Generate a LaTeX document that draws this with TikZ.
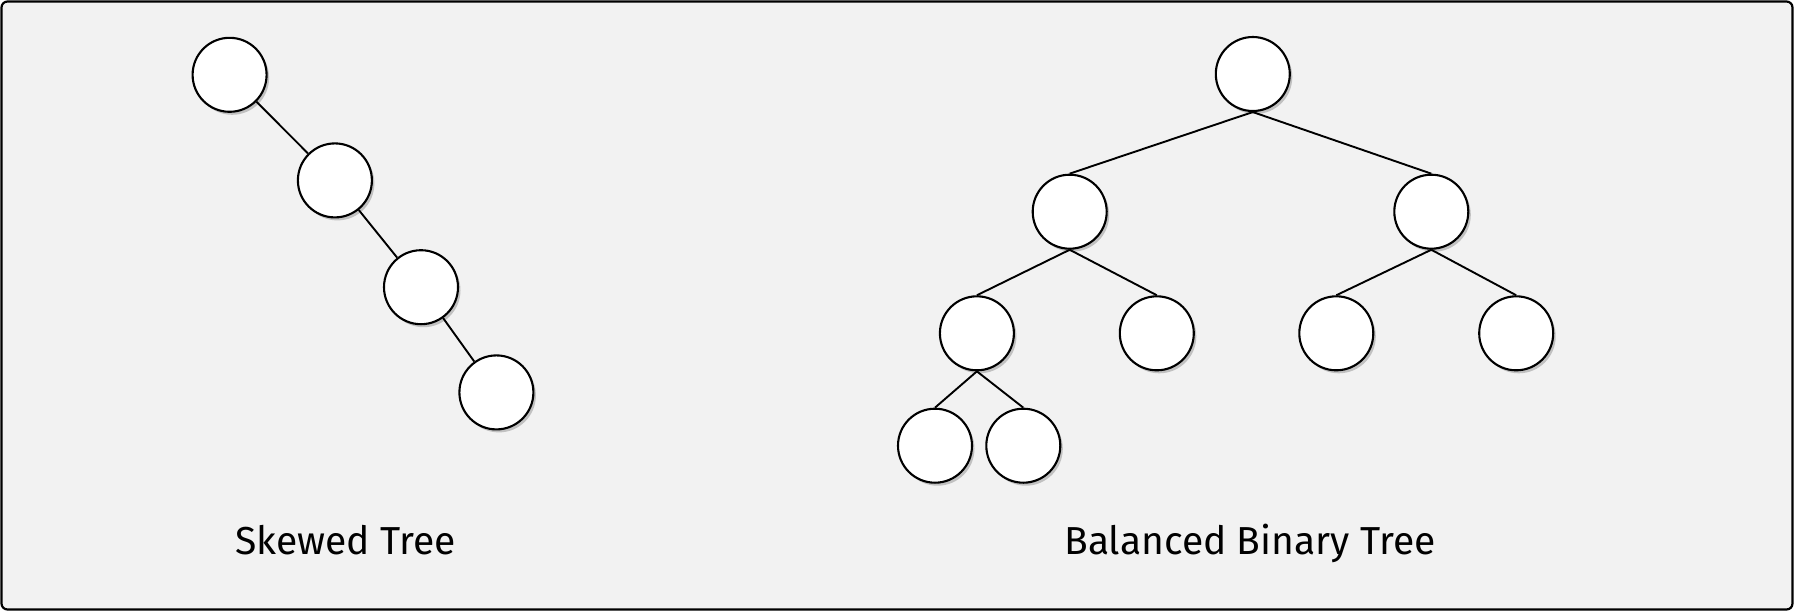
\documentclass[tikz,border=0pt]{standalone}
\usepackage{fontspec}
\setmainfont{Fira Sans}
\usetikzlibrary{shadows}
\definecolor{bgc}{HTML}{F2F2F2}
\begin{document}
\begin{tikzpicture}[x=1pt,y=-1pt,
  treenode/.style={circle,draw=black,line width=2.1pt,fill=white,minimum size=74pt,inner sep=0pt,
    drop shadow={shadow xshift=2.5pt,shadow yshift=-3pt,opacity=0.35,fill=black!60}},
  edge/.style={draw=black,line width=1.9pt},
  caption/.style={anchor=base,font=\fontsize{39}{46}\selectfont,text=black}]
\useasboundingbox (0,0) rectangle (1794,611);
\draw[fill=bgc,draw=black,line width=2.2pt,rounded corners=6pt] (1.5,1.5) rectangle (1792.5,609.5);
% skewed tree
\node[treenode] (s1) at (229.6,74.8) {};
\node[treenode] (s2) at (334.9,180.4) {};
\node[treenode] (s3) at (421,287.2) {};
\node[treenode] (s4) at (496.4,392.4) {};
\draw[edge] (s1) -- (s2);
\draw[edge] (s2) -- (s3);
\draw[edge] (s3) -- (s4);
% balanced tree
\node[treenode] (r) at (1252.8,74) {};
\node[treenode] (a) at (1069.7,211.7) {};
\node[treenode] (b) at (1431.3,211.7) {};
\node[treenode] (aa) at (976.9,333.3) {};
\node[treenode] (ab) at (1156.8,333.3) {};
\node[treenode] (ba) at (1336.3,333.3) {};
\node[treenode] (bb) at (1516.2,333.3) {};
\node[treenode] (aaa) at (935,445.7) {};
\node[treenode] (aab) at (1023.3,445.7) {};
\draw[edge] (r.south) -- (a.north);
\draw[edge] (r.south) -- (b.north);
\draw[edge] (a.south) -- (aa.north);
\draw[edge] (a.south) -- (ab.north);
\draw[edge] (b.south) -- (ba.north);
\draw[edge] (b.south) -- (bb.north);
\draw[edge] (aa.south) -- (aaa.north);
\draw[edge] (aa.south) -- (aab.north);
% captions
\node[caption] (t1) at (345.4,554) {Skewed Tree};
\node[caption] (t2) at (1250,554) {Balanced Binary Tree};
\end{tikzpicture}
\end{document}
